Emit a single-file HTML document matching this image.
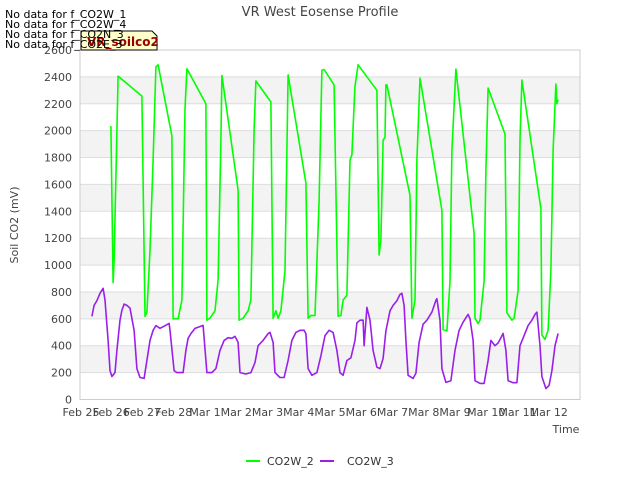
<!DOCTYPE html>
<html><head><meta charset="utf-8"><style>
body{margin:0;background:#fff;font-family:"Liberation Sans","DejaVu Sans",sans-serif}
svg text{font-family:"DejaVu Sans","Liberation Sans",sans-serif}
</style></head><body>
<svg id="chart" width="640" height="480" xmlns="http://www.w3.org/2000/svg">
<g id="bands"></g><g id="grid"></g>
<rect x="80" y="50" width="500" height="349.5" fill="none" stroke="#ccc"/>
<g id="ticks"></g><g id="series"></g>
<text x="320" y="16" text-anchor="middle" font-size="13" fill="#444">VR West Eosense Profile</text>
<text transform="translate(18,225) rotate(-90)" text-anchor="middle" font-size="11" fill="#444">Soil CO2 (mV)</text>
<text x="566" y="433" text-anchor="middle" font-size="11" fill="#444">Time</text>
<g>
<path d="M81,31 H152 L157,36 V50 H81 Z" fill="#ffffcc" stroke="#000" stroke-width="1"/>
<text x="87" y="46" font-size="12" font-weight="bold" fill="#990000">VR_soilco2</text>
</g>
<g font-size="11" fill="#000">
<text x="5" y="18">No data for f_CO2W_1</text>
<text x="5" y="28">No data for f_CO2W_4</text>
<text x="5" y="38">No data for f_CO2N_3</text>
<text x="5" y="48">No data for f_CO2E_3</text>
</g>
<g>
<line x1="246" y1="461" x2="260" y2="461" stroke="#00ff00" stroke-width="2"/>
<text x="267" y="465" font-size="11" fill="#333">CO2W_2</text>
<line x1="320" y1="461" x2="334" y2="461" stroke="#9b1fe8" stroke-width="2"/>
<text x="347" y="465" font-size="11" fill="#333">CO2W_3</text>
</g>
</svg>
<script>
const xLabels=["Feb 25","Feb 26","Feb 27","Feb 28","Mar 1","Mar 2","Mar 3","Mar 4","Mar 5","Mar 6","Mar 7","Mar 8","Mar 9","Mar 10","Mar 11","Mar 12"];
const yTicks=[0,200,400,600,800,1000,1200,1400,1600,1800,2000,2200,2400,2600];
const co2w2Days=[0.99,1.06,1.09,1.22,1.98,2.08,2.14,2.24,2.34,2.43,2.50,2.94,2.98,3.14,3.26,3.36,3.42,4.03,4.06,4.16,4.32,4.42,4.51,4.54,5.06,5.09,5.22,5.38,5.47,5.57,5.63,6.11,6.18,6.27,6.34,6.43,6.56,6.66,7.23,7.30,7.39,7.52,7.65,7.74,7.81,8.13,8.26,8.35,8.42,8.54,8.64,8.70,8.77,8.80,8.90,9.50,9.57,9.63,9.70,9.76,9.79,9.82,10.56,10.62,10.72,10.78,10.88,11.58,11.62,11.74,11.84,11.90,12.03,12.61,12.64,12.74,12.80,12.93,12.99,13.06,13.60,13.66,13.82,13.89,14.02,14.08,14.14,14.75,14.78,14.88,14.98,15.07,15.14,15.23,15.26,15.30];
const co2w2Values=[2034,870,1035,2406,2257,618,648,1110,1780,2473,2490,1960,600,600,740,2160,2460,2200,590,605,660,890,1930,2410,1557,590,605,660,740,2010,2370,2213,605,660,605,660,960,2415,1610,605,625,625,1480,2450,2455,2340,620,625,740,775,1780,1820,2190,2330,2490,2300,1075,1185,1930,1950,2340,2340,1520,605,740,1780,2390,1408,520,510,880,1850,2458,1236,605,565,590,880,1700,2317,1974,645,590,605,810,1930,2376,1420,480,447,515,960,1850,2347,2200,2230];
const co2w3Days=[0.38,0.45,0.54,0.64,0.74,0.80,0.90,0.96,1.02,1.12,1.18,1.28,1.34,1.41,1.50,1.60,1.73,1.82,1.92,2.05,2.14,2.24,2.34,2.43,2.56,2.69,2.85,2.88,3.01,3.10,3.30,3.39,3.46,3.55,3.68,3.81,3.94,4.06,4.22,4.35,4.48,4.61,4.74,4.86,4.96,5.06,5.12,5.31,5.47,5.60,5.70,5.86,6.02,6.08,6.18,6.24,6.40,6.53,6.66,6.78,6.91,7.04,7.17,7.23,7.30,7.42,7.58,7.71,7.84,7.97,8.10,8.22,8.32,8.42,8.54,8.67,8.80,8.86,8.96,9.06,9.09,9.18,9.28,9.38,9.50,9.60,9.70,9.79,9.92,10.02,10.14,10.24,10.30,10.37,10.43,10.50,10.66,10.75,10.85,10.98,11.10,11.26,11.39,11.42,11.52,11.58,11.71,11.87,12.00,12.13,12.26,12.38,12.42,12.48,12.58,12.64,12.80,12.93,13.06,13.15,13.28,13.38,13.47,13.54,13.63,13.70,13.86,13.98,14.08,14.21,14.34,14.46,14.56,14.62,14.72,14.78,14.91,15.01,15.10,15.20,15.30];
const co2w3Values=[618,700,735,790,827,740,440,216,171,200,365,590,663,710,700,680,515,230,164,157,290,440,514,550,530,545,566,515,215,200,200,365,455,490,529,540,551,200,200,230,365,440,460,455,470,425,200,190,200,275,400,440,490,499,425,200,164,164,290,440,499,515,515,490,230,180,200,325,475,515,499,365,200,180,290,310,440,570,590,590,400,685,590,365,240,230,305,510,660,700,735,782,790,700,440,180,157,195,425,560,590,650,737,750,590,230,127,140,365,515,575,620,633,600,440,140,120,120,290,440,400,420,460,492,365,140,125,125,400,475,550,590,633,650,400,170,82,105,215,400,492];
const NS='http://www.w3.org/2000/svg';
const X0=80,X1=580,Y0=399.5,Y1=50,DMAX=16,VMAX=2600;
function xs(d){return X0+d*(X1-X0)/DMAX;}
function ys(v){return Y0-v*(Y0-Y1)/VMAX;}
function mk(tag,attrs,parent){const e=document.createElementNS(NS,tag);for(const k in attrs)e.setAttribute(k,attrs[k]);parent.appendChild(e);return e;}
const bands=document.getElementById('bands'),grid=document.getElementById('grid'),ticks=document.getElementById('ticks'),series=document.getElementById('series');
for(let i=0;i<yTicks.length-1;i++){
  if(i%2===1){const r=mk('rect',{x:X0,y:ys(yTicks[i+1]),width:X1-X0,height:ys(yTicks[i])-ys(yTicks[i+1]),fill:'#f3f3f3'},bands);
  
  }
}
yTicks.forEach(v=>{
  const l=mk('line',{x1:X0,x2:X1,y1:ys(v),y2:ys(v),stroke:'#ddd'},grid);
  
  
  const t=mk('text',{x:72,y:ys(v)+4,'text-anchor':'end','font-size':11,fill:'#444'},ticks);
  t.textContent=v;
  
  
});
xLabels.forEach((s,i)=>{
  const t=mk('text',{x:xs(i)+(i===0?1:0),y:416,'text-anchor':'middle','font-size':11,fill:'#444'},ticks);
  t.textContent=s;
  
  
});
function line(days,vals,color,name){
  const p=days.map((d,i)=>(i?'L':'M')+xs(d).toFixed(1)+','+ys(vals[i]).toFixed(1)).join(' ');
  const e=mk('path',{d:p,fill:'none',stroke:color,'stroke-width':1.6,'stroke-linejoin':'round'},series);
  
  
}
line(co2w3Days,co2w3Values,'#9b1fe8','co2w3-line');
line(co2w2Days,co2w2Values,'#00ff00','co2w2-line');
</script>
</body></html>
